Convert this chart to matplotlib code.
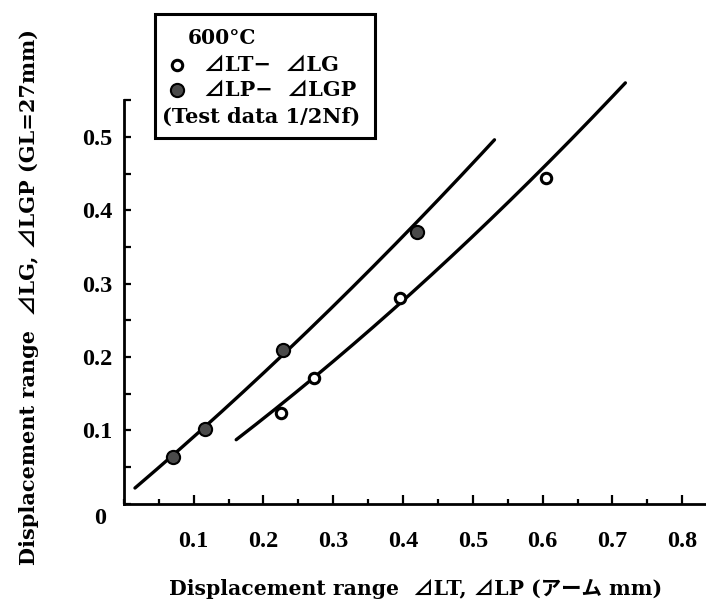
import numpy as np
import matplotlib
matplotlib.use("Agg")
import matplotlib.pyplot as plt
from matplotlib.patches import Rectangle
from matplotlib.lines import Line2D
from matplotlib.ticker import MultipleLocator

plt.rcParams['font.family'] = ['Liberation Serif', 'Noto Sans CJK JP', 'DejaVu Sans']
plt.rcParams['font.weight'] = 'bold'
TEXT_FAMILY = ['DejaVu Serif', 'Noto Sans CJK JP', 'DejaVu Sans']

# Test data at 1/2 Nf, 600 °C
lt_x = [0.225, 0.272, 0.396, 0.605]   # ΔLT  (open circles)
lt_y = [0.124, 0.171, 0.280, 0.444]   # ΔLG
lp_x = [0.070, 0.116, 0.228, 0.420]   # ΔLP  (filled circles)
lp_y = [0.064, 0.102, 0.209, 0.371]   # ΔLGP

# Points along the drawn trend curves
curve_lt_x = [0.161, 0.272, 0.467, 0.7185]
curve_lt_y = [0.087, 0.172, 0.335, 0.574]
curve_lp_x = [0.016, 0.188, 0.451, 0.531]
curve_lp_y = [0.021, 0.168, 0.414, 0.497]

xticks = [0.1, 0.2, 0.3, 0.4, 0.5, 0.6, 0.7, 0.8]
yticks = [0.1, 0.2, 0.3, 0.4, 0.5]

W, H = 706, 606
fig = plt.figure(figsize=(W / 100, H / 100), dpi=100)
ax = fig.add_axes([123.8 / W, (H - 503.6) / H, 582.2 / W, 403.9 / H])
ax.set_xlim(0, 0.834)
ax.set_ylim(0, 0.551)


def trend(xs, ys):
    c = np.polyfit(xs, ys, 2)
    xx = np.linspace(xs[0], xs[-1], 200)
    return xx, np.polyval(c, xx)


for cx, cy in ((curve_lt_x, curve_lt_y), (curve_lp_x, curve_lp_y)):
    xx, yy = trend(cx, cy)
    ax.plot(xx, yy, color='black', lw=2.4, solid_capstyle='round', zorder=2,
            clip_on=False)

ax.plot(lt_x, lt_y, linestyle='none', marker='o', ms=7.5, mfc='white',
        mec='black', mew=2.2, zorder=3)
ax.plot(lp_x, lp_y, linestyle='none', marker='o', ms=9.5, mfc='#4a4a4a',
        mec='black', mew=1.5, zorder=3)

for side in ('top', 'right'):
    ax.spines[side].set_visible(False)
for side in ('left', 'bottom'):
    ax.spines[side].set_linewidth(2.0)

ax.set_xticks(xticks)
ax.set_xticklabels([f'{v:.1f}' for v in xticks])
ax.xaxis.set_minor_locator(MultipleLocator(0.05))
ax.set_yticks(yticks)
ax.set_yticklabels([f'{v:.1f}' for v in yticks])
ax.yaxis.set_minor_locator(MultipleLocator(0.05))
ax.tick_params(axis='x', which='major', direction='in', length=6.5, width=1.6,
               pad=20, labelsize=17.5)
ax.tick_params(axis='x', which='minor', direction='in', length=3.5, width=1.6)
ax.tick_params(axis='y', which='both', direction='in', length=5, width=1.6,
               pad=8, labelsize=17.5)
ax.text(-0.034, -0.02, '0', transform=ax.transData, ha='center', va='center',
        fontsize=17.5, fontweight='bold')

fig.text(416 / W, 1 - 589 / H, 'Displacement range  ⊿LT, ⊿LP (アーム mm)',
         ha='center', va='center', fontsize=14.7, fontweight='bold',
         family=TEXT_FAMILY)
fig.text(29 / W, 1 - 297 / H, 'Displacement range  ⊿LG, ⊿LGP (GL=27mm)',
         ha='center', va='center', rotation=90, fontsize=15,
         fontweight='bold', family=TEXT_FAMILY)

# Legend box
fig.add_artist(Rectangle((155 / W, 1 - 138 / H), 220 / W, 124 / H,
                         transform=fig.transFigure, fill=False,
                         edgecolor='black', lw=2.2))
fig.text(188 / W, 1 - 38 / H, '600°C', ha='left', va='center',
         fontsize=14.5, fontweight='bold', family=TEXT_FAMILY)
fig.add_artist(Line2D([177 / W], [1 - 65 / H], transform=fig.transFigure,
                      marker='o', ms=7.5, mfc='white', mec='black', mew=2.2,
                      linestyle='none'))
fig.text(204 / W, 1 - 65 / H, '⊿LT−  ⊿LG', ha='left', va='center',
         fontsize=15, fontweight='bold', family=TEXT_FAMILY)
fig.add_artist(Line2D([177 / W], [1 - 90 / H], transform=fig.transFigure,
                      marker='o', ms=9.5, mfc='#4a4a4a', mec='black', mew=1.5,
                      linestyle='none'))
fig.text(204 / W, 1 - 90 / H, '⊿LP−  ⊿LGP', ha='left', va='center',
         fontsize=15, fontweight='bold', family=TEXT_FAMILY)
fig.text(162 / W, 1 - 117 / H, '(Test data 1/2Nf)', ha='left', va='center',
         fontsize=15, fontweight='bold', family=TEXT_FAMILY)

fig.savefig('out.png', dpi=100)
